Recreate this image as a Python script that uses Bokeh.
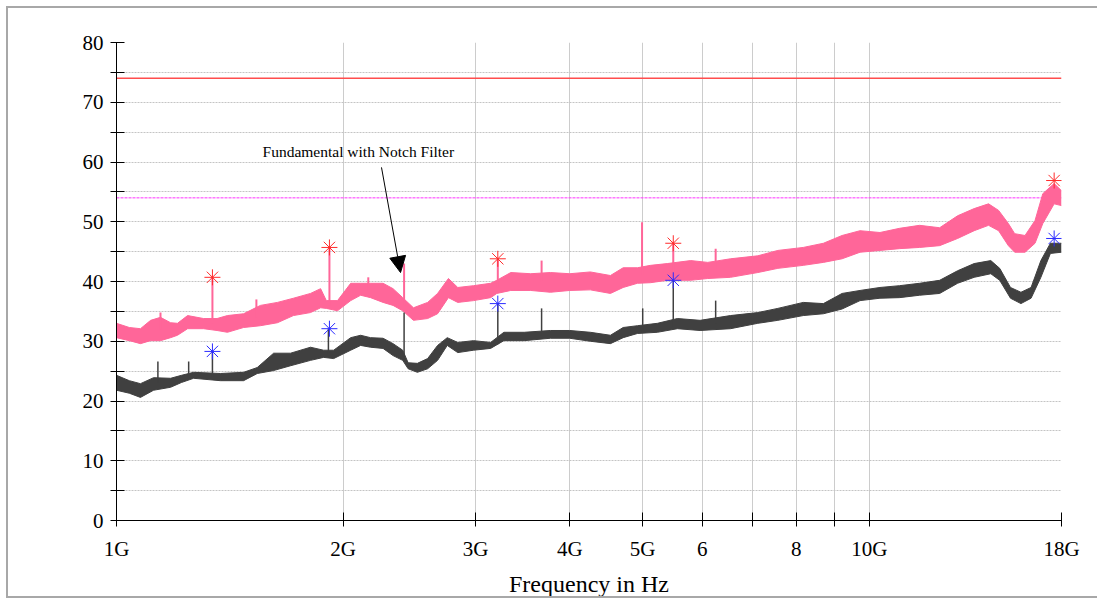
from bokeh.plotting import figure
from bokeh.models import Range1d, FixedTicker, Label, Arrow, NormalHead, Span
from bokeh.embed import file_html
from bokeh.resources import INLINE

# ---------------- data (frequency in GHz, level in dB) ----------------
pk_f = [1.00, 1.04, 1.076, 1.11, 1.144, 1.18, 1.205, 1.243, 1.305, 1.36, 1.404, 1.475,
        1.553, 1.636, 1.718, 1.81, 1.867, 1.90, 1.966, 2.047, 2.11, 2.175, 2.26, 2.33,
        2.40, 2.48, 2.59, 2.67, 2.76, 2.84, 2.98, 3.14, 3.20, 3.34, 3.55, 3.77, 4.00,
        4.26, 4.53, 4.71, 4.92, 5.12, 5.39, 5.79, 6.10, 6.54, 7.11, 7.56, 8.17, 8.69,
        9.20, 9.72, 10.33, 10.97, 11.66, 12.4, 13.1, 13.78, 14.4, 14.85, 15.3, 15.6,
        16.1, 16.6, 17.0, 17.6, 18.0]
pk_lo = [30.6, 30.1, 29.6, 30.1, 30.1, 30.6, 31.0, 32.1, 32.1, 31.8, 31.5, 32.3,
         32.6, 33.1, 34.3, 34.8, 35.6, 35.5, 35.1, 36.8, 37.7, 37.3, 36.5, 36.0,
         35.1, 33.5, 33.8, 34.6, 37.3, 36.5, 36.8, 37.3, 38.0, 38.5, 38.5, 38.2, 38.5,
         38.6, 38.0, 39.0, 39.7, 39.8, 40.2, 40.2, 40.5, 40.7, 41.5, 42.2, 42.7, 43.2,
         43.8, 44.9, 45.2, 45.5, 45.7, 46.0, 47.2, 48.5, 49.4, 48.5, 46.0, 44.9,
         44.9, 46.4, 49.7, 53.0, 52.7]
pk_hi = [33.0, 32.3, 32.1, 33.5, 34.0, 33.1, 33.0, 34.3, 33.8, 33.8, 34.3, 34.6,
         36.0, 36.5, 37.2, 38.0, 38.8, 36.8, 36.8, 39.7, 39.7, 39.7, 39.7, 38.8,
         37.3, 35.6, 36.5, 38.0, 40.5, 39.0, 39.3, 39.7, 40.2, 41.5, 41.3, 41.5, 41.3,
         41.6, 41.0, 42.3, 42.3, 42.7, 43.0, 43.5, 43.2, 43.8, 44.3, 45.2, 45.7, 46.4,
         47.7, 48.5, 48.2, 48.9, 49.4, 49.0, 51.0, 52.2, 53.0, 51.9, 49.7, 48.0,
         47.7, 50.2, 54.7, 56.4, 55.2]

dk_f = [1.00, 1.04, 1.076, 1.12, 1.18, 1.22, 1.266, 1.374, 1.475, 1.538, 1.617, 1.703,
        1.81, 1.884, 1.943, 2.047, 2.11, 2.175, 2.26, 2.33, 2.40, 2.44, 2.51, 2.59,
        2.67, 2.75, 2.84, 2.98, 3.14, 3.27, 3.48, 3.77, 4.00, 4.26, 4.53, 4.71, 4.92,
        5.23, 5.56, 5.96, 6.54, 7.11, 7.56, 8.17, 8.69, 9.20, 9.72, 10.33, 10.97,
        11.66, 12.4, 13.1, 13.78, 14.5, 14.9, 15.4, 15.9, 16.4, 16.9, 17.4, 18.0]
dk_lo = [21.8, 21.3, 20.6, 21.8, 22.3, 23.1, 23.8, 23.4, 23.4, 24.6, 25.1, 25.9,
         26.8, 27.3, 27.1, 28.5, 29.3, 29.0, 28.8, 27.6, 26.8, 25.4, 24.8, 25.4,
         26.8, 29.3, 28.1, 28.5, 28.8, 30.1, 30.1, 30.5, 30.5, 30.0, 29.6, 30.6, 31.3,
         31.5, 32.1, 31.8, 32.1, 33.0, 33.5, 34.3, 34.6, 35.4, 36.8, 37.2, 37.3,
         37.7, 38.0, 39.7, 40.7, 41.3, 40.2, 37.2, 36.3, 37.2, 40.7, 44.7, 44.9]
dk_hi = [24.3, 23.4, 22.9, 23.9, 23.8, 24.3, 24.8, 24.6, 24.8, 25.6, 28.0, 28.0,
         29.0, 28.5, 28.5, 30.6, 31.0, 30.6, 30.5, 29.6, 28.5, 26.4, 26.3, 27.1,
         29.3, 30.6, 29.8, 30.1, 29.8, 31.5, 31.5, 31.8, 31.8, 31.5, 31.0, 32.3, 32.6,
         33.0, 33.8, 33.5, 34.3, 34.8, 35.5, 36.5, 36.3, 38.0, 38.5, 39.0, 39.3,
         39.7, 40.2, 41.8, 43.0, 43.5, 42.2, 39.0, 38.2, 39.0, 43.5, 46.4, 46.4]

# narrow spurious spikes: frequency, base level, top level
pk_spk_f = [1.144, 1.341, 1.534, 1.918, 2.16, 2.41, 3.21, 3.67, 4.99, 5.49, 6.25]
pk_spk_b = [32.0, 33.0, 34.0, 36.0, 38.5, 36.0, 39.0, 40.0, 41.0, 41.5, 42.0]
pk_spk_t = [34.8, 40.7, 37.0, 45.7, 40.7, 43.0, 43.8, 43.5, 49.9, 46.4, 45.5]

dk_spk_f = [1.135, 1.247, 1.341, 1.912, 2.41, 3.21, 3.67, 5.00, 5.49, 6.25]
dk_spk_b = [23.0, 24.0, 24.0, 28.0, 27.0, 29.5, 31.0, 32.0, 32.5, 33.0]
dk_spk_t = [26.6, 26.6, 28.3, 32.1, 34.8, 36.3, 35.5, 35.5, 40.2, 36.8]

# marked maxima
pk_mk_f = [1.341, 1.918, 3.21, 5.49, 17.6]
pk_mk_v = [40.7, 45.7, 43.8, 46.4, 56.9]
dk_mk_f = [1.341, 1.918, 3.21, 5.49, 17.6]
dk_mk_v = [28.3, 32.1, 36.3, 40.2, 47.2]

# limit lines
peak_limit = 74
avg_limit = 54

x_ticks = [1, 2, 3, 4, 5, 6, 7, 8, 9, 10, 18]
x_labels = ["1G", "2G", "3G", "4G", "5G", "6", "", "8", "", "10G", "18G"]
y_ticks = list(range(0, 81, 5))
y_labels = [str(v) if v % 10 == 0 else "" for v in y_ticks]

x_title = "Frequency in Hz"
note_text = "Fundamental with Notch Filter"
note_pos = (1.563, 60.3)
arrow_from = (2.249, 59.1)
arrow_to = (2.384, 41.5)

# ---------------- figure ----------------
SERIF = "Liberation Serif"
p = figure(width=1091, height=592, x_axis_type="log",
           x_range=Range1d(1, 18), y_range=Range1d(0, 80),
           output_backend="svg", toolbar_location=None,
           min_border_left=108, min_border_right=38,
           min_border_top=34, min_border_bottom=80)
p.styles = {"margin-left": "6px", "margin-top": "6px",
            "border-left": "2px solid #a8a8a8", "border-top": "2px solid #a8a8a8",
            "border-bottom": "2px solid #a8a8a8"}
p.outline_line_color = None
p.background_fill_color = "white"
p.border_fill_color = "white"

p.xgrid.ticker = FixedTicker(ticks=x_ticks)
p.xgrid.grid_line_color = "#cccccc"
p.ygrid.ticker = FixedTicker(ticks=y_ticks)
p.ygrid.grid_line_color = "#c4c4c4"
p.ygrid.grid_line_dash = "2 1"

for ax in (p.xaxis[0], p.yaxis[0]):
    ax.axis_line_color = "black"
    ax.major_tick_line_color = "black"
    ax.major_tick_in = 8
    ax.major_tick_out = 6
    ax.minor_tick_line_color = None
    ax.major_label_text_font = SERIF
    ax.major_label_text_font_size = "21px"
    ax.major_label_text_color = "black"

p.xaxis.ticker = FixedTicker(ticks=x_ticks)
p.xaxis.major_label_overrides = {t: l for t, l in zip(x_ticks, x_labels)}
p.xaxis.major_label_standoff = 10
p.xaxis.axis_label = x_title
p.xaxis.axis_label_text_font = SERIF
p.xaxis.axis_label_text_font_size = "24px"
p.xaxis.axis_label_text_font_style = "normal"
p.xaxis.axis_label_text_color = "black"
p.xaxis.axis_label_standoff = 7

p.yaxis.ticker = FixedTicker(ticks=y_ticks)
p.yaxis.major_label_overrides = {t: l for t, l in zip(y_ticks, y_labels)}
p.yaxis.major_label_standoff = 7

# limit lines
p.add_layout(Span(location=peak_limit, dimension="width", line_color="#ff4d4d",
                  line_width=1.5, level="underlay"))
p.add_layout(Span(location=avg_limit, dimension="width", line_color="#ff33ff",
                  line_width=1, line_dash="3 1", level="underlay"))

PINK = "#ff6699"
DARK = "#404040"

# traces
p.varea(x=pk_f, y1=pk_lo, y2=pk_hi, fill_color=PINK)
p.line(x=pk_f, y=pk_lo, line_color=PINK, line_width=1)
p.line(x=pk_f, y=pk_hi, line_color=PINK, line_width=1)
p.segment(x0=pk_spk_f, y0=pk_spk_b, x1=pk_spk_f, y1=pk_spk_t, line_color=PINK, line_width=2)

p.varea(x=dk_f, y1=dk_lo, y2=dk_hi, fill_color=DARK)
p.line(x=dk_f, y=dk_lo, line_color=DARK, line_width=1)
p.line(x=dk_f, y=dk_hi, line_color=DARK, line_width=1)
p.segment(x0=dk_spk_f, y0=dk_spk_b, x1=dk_spk_f, y1=dk_spk_t, line_color=DARK, line_width=1.5)

# markers
p.scatter(x=pk_mk_f, y=pk_mk_v, marker="asterisk", size=16, line_color="#ff2a2a", line_width=1)
p.scatter(x=dk_mk_f, y=dk_mk_v, marker="asterisk", size=16, line_color="#2a2aff", line_width=1)

# annotation
p.add_layout(Label(x=note_pos[0], y=note_pos[1], text=note_text, text_font=SERIF,
                   text_font_size="15.5px", text_color="black"))
p.add_layout(Arrow(x_start=arrow_from[0], y_start=arrow_from[1],
                   x_end=arrow_to[0], y_end=arrow_to[1], line_width=1, line_color="black",
                   end=NormalHead(size=16, fill_color="black", line_color="black")))

open("out.html", "w").write(file_html(p, INLINE))
